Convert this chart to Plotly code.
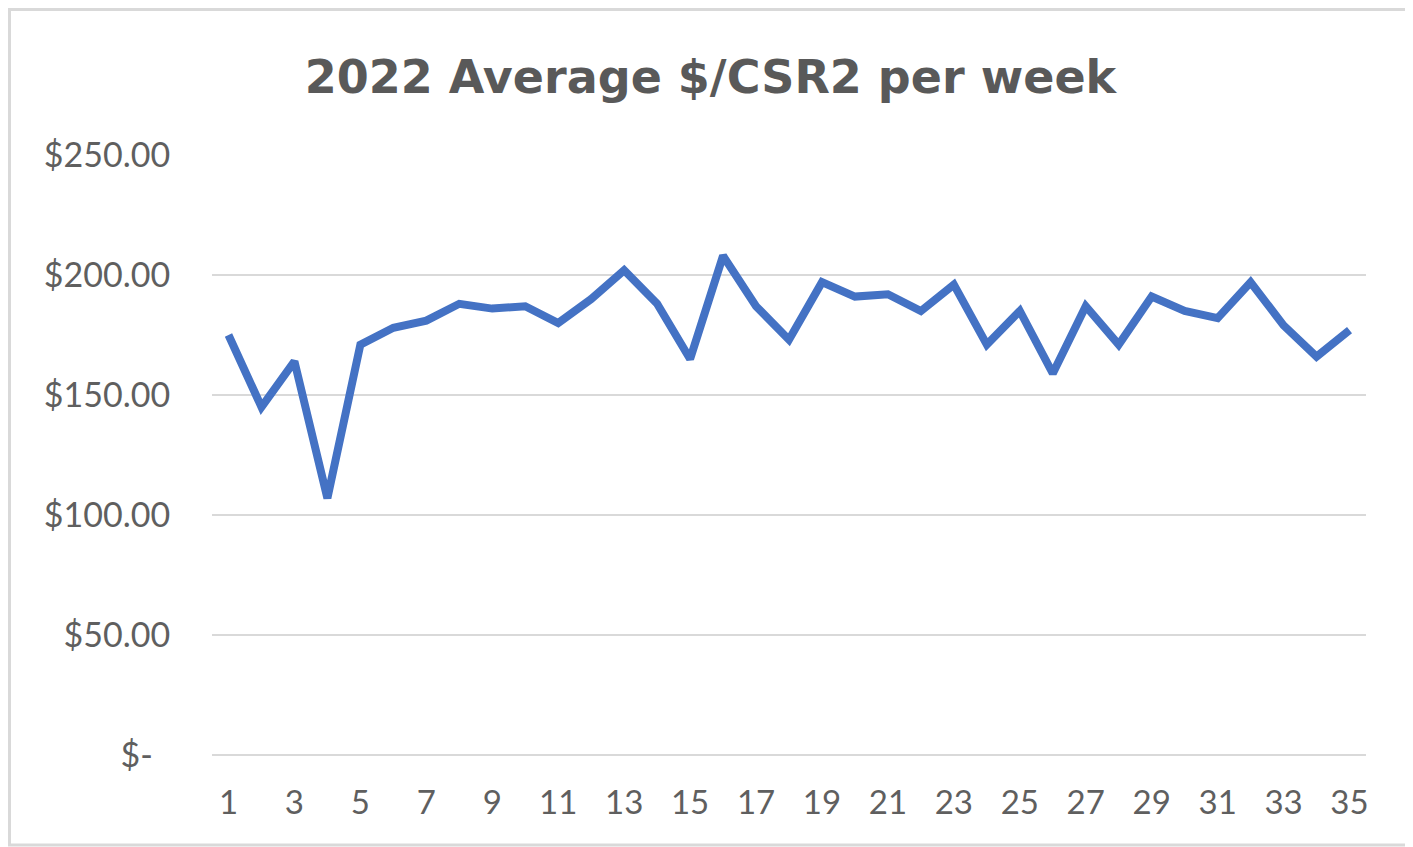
import plotly.graph_objects as go

weeks = list(range(1, 36))
avg_price = [175, 145, 164, 107, 171, 178, 181, 188, 186, 187,
             180, 190, 202, 188, 165, 208, 187, 173, 197, 191,
             192, 185, 196, 171, 185, 159, 187, 171, 191, 185,
             182, 197, 179, 166, 177]
y_ticks = [0, 50, 100, 150, 200, 250]
y_labels = ["$-\u00a0\u00a0", "$50.00", "$100.00", "$150.00", "$200.00", "$250.00"]
x_ticks = list(range(1, 36, 2))

# page has an 8px body margin, so the figure is drawn 8px in from the window edge
W, H = 1405, 839
L, R, T, B = 204, 47, 147, 92
pw, ph = W - L - R, H - T - B

fig = go.Figure()
fig.add_trace(go.Scatter(
    x=weeks, y=avg_price, mode="lines",
    line=dict(color="#4472C4", width=8, shape="linear"),
    hoverinfo="x+y", showlegend=False,
))

fig.update_layout(
    width=W, height=H,
    margin=dict(l=L, r=R, t=T, b=B, autoexpand=False),
    paper_bgcolor="white", plot_bgcolor="white",
    font=dict(family="Lato, 'Open Sans', sans-serif", color="#595959"),
    title=dict(
        text="<b>2022 Average $/CSR2 per week</b>",
        x=0.5, xanchor="center", xref="container",
        y=1 - 69 / H, yanchor="middle", yref="container",
        font=dict(size=46, color="#595959", family="'DejaVu Sans', sans-serif"),
    ),
    xaxis=dict(
        range=[0.5, 35.5], tickmode="array", tickvals=x_ticks,
        ticktext=[str(v) for v in x_ticks],
        showgrid=False, zeroline=False, showline=False, automargin=False,
        ticks="outside", ticklen=18, tickcolor="rgba(0,0,0,0)",
        tickfont=dict(size=33, color="#5f5f5f"),
    ),
    yaxis=dict(
        range=[0, 250], tickmode="array", tickvals=y_ticks, ticktext=y_labels,
        showgrid=True, gridcolor="#D9D9D9", gridwidth=2,
        zeroline=True, zerolinecolor="#D9D9D9", zerolinewidth=2,
        showline=False, automargin=False,
        ticks="outside", ticklen=34, tickcolor="rgba(0,0,0,0)",
        tickfont=dict(size=34, color="#5f5f5f"),
    ),
    shapes=[dict(
        type="rect", xref="paper", yref="paper",
        x0=(1.5 - L) / pw, x1=(1399 - L) / pw,
        y0=(H - B - 837) / ph, y1=(H - B - 1.5) / ph,
        line=dict(color="#D9D9D9", width=3), fillcolor="rgba(0,0,0,0)", layer="below",
    )],
)

fig.write_html("out.html")
